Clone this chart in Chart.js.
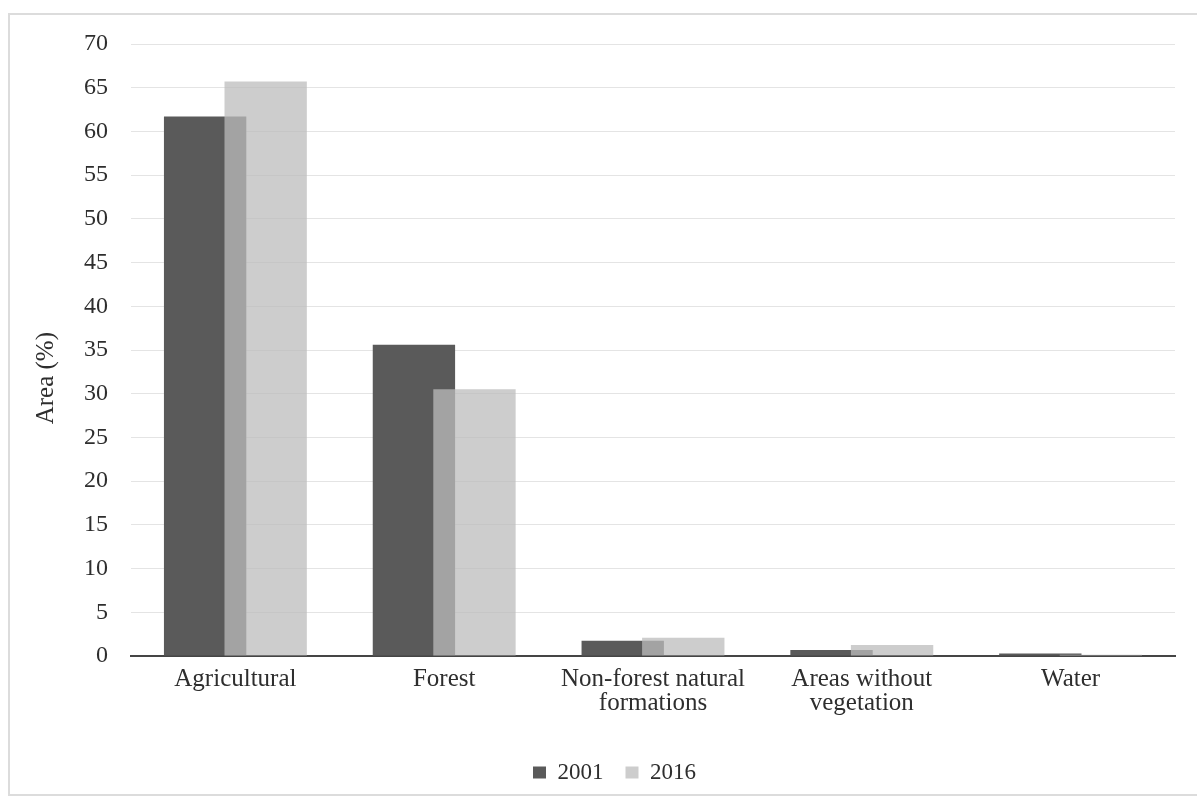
<!DOCTYPE html>
<html>
<head>
<meta charset="utf-8">
<script src="https://cdn.jsdelivr.net/npm/chart.js@4.4.1/dist/chart.umd.min.js"></script>
<style>
  html, body { margin: 0; padding: 0; background: #ffffff; }
  body { width: 1197px; height: 800px; overflow: hidden; position: relative; }
  #frame {
    position: absolute; left: 8px; top: 13px; width: 1200px; height: 783px;
    border: 2px solid #dcdcdc; box-sizing: border-box;
  }
  #wrap { position: absolute; left: 0; top: 0; width: 1197px; height: 800px; }
</style>
</head>
<body>
<div id="frame"></div>
<div id="wrap"><canvas id="chart" width="1197" height="800"></canvas></div>
<script>
// Land cover categories (multi-line labels as drawn under the axis)
const categories = [
  ['Agricultural'],
  ['Forest'],
  ['Non-forest natural', 'formations'],
  ['Areas without', 'vegetation'],
  ['Water']
];

// Share of total area (%) per year
const values2001 = [61.7, 35.6, 1.75, 0.7, 0.3];
const values2016 = [65.7, 30.5, 2.1, 1.25, 0.15];

const seriesLabels = ['2001', '2016'];
const yTicks = { min: 0, max: 70, step: 5 };
const yTitle = 'Area (%)';

const SERIF = "'Liberation Serif', 'Times New Roman', serif";
const TEXT = '#2e2e2e';
const DARK = '#5a5a5a';
const LIGHT = 'rgba(188,188,188,0.75)';

// Bars of a category are wider than their slots so the two years overlap;
// paint the series in dataset order so the translucent 2016 bar lies on top.
const paintInSeriesOrder = {
  id: 'paintInSeriesOrder',
  beforeDatasetsDraw(chart) {
    const { ctx, chartArea: a } = chart;
    ctx.save();
    ctx.beginPath();
    ctx.rect(a.left, a.top, a.right - a.left, a.bottom - a.top);
    ctx.clip();
    chart.getSortedVisibleDatasetMetas().forEach(meta => meta.controller.draw());
    ctx.restore();
    return false;
  }
};

// Nudge the legend a little to the right of the canvas centre.
const legendNudge = {
  id: 'legendNudge',
  afterLayout(chart) {
    const lg = chart.legend;
    if (lg) { lg.left += 22; lg.right += 22; }
  }
};

new Chart(document.getElementById('chart'), {
  type: 'bar',
  data: {
    labels: categories,
    datasets: [
      { label: seriesLabels[0], data: values2001, backgroundColor: DARK, borderWidth: 0 },
      { label: seriesLabels[1], data: values2016, backgroundColor: LIGHT, borderWidth: 0 }
    ]
  },
  plugins: [paintInSeriesOrder, legendNudge],
  options: {
    responsive: false,
    animation: false,
    categoryPercentage: 0.58,
    barPercentage: 1.36,
    layout: { padding: { left: 10, right: 22, top: 44, bottom: 6 } },
    plugins: {
      tooltip: { enabled: false },
      legend: {
        position: 'bottom',
        labels: {
          font: { family: SERIF, size: 23 },
          color: TEXT,
          boxWidth: 13,
          boxHeight: 12,
          padding: 22
        }
      }
    },
    scales: {
      x: {
        z: 1,
        grid: { display: false, drawTicks: false },
        border: { display: true, color: '#454545', width: 2 },
        ticks: {
          font: { family: SERIF, size: 25, lineHeight: 0.96 },
          color: TEXT,
          padding: 11,
          maxRotation: 0,
          autoSkip: false
        },
        afterFit: scale => { scale.height += 13; }
      },
      y: {
        min: yTicks.min,
        max: yTicks.max,
        border: { display: false },
        grid: { color: '#e4e4e4', lineWidth: 1, drawTicks: false },
        ticks: {
          stepSize: yTicks.step,
          font: { family: SERIF, size: 24 },
          color: TEXT,
          padding: 23
        },
        title: {
          display: true,
          text: yTitle + '\u00a0'.repeat(9),
          font: { family: SERIF, size: 25 },
          color: TEXT,
          padding: { top: 21, bottom: 0 }
        }
      }
    }
  }
});
</script>
</body>
</html>
